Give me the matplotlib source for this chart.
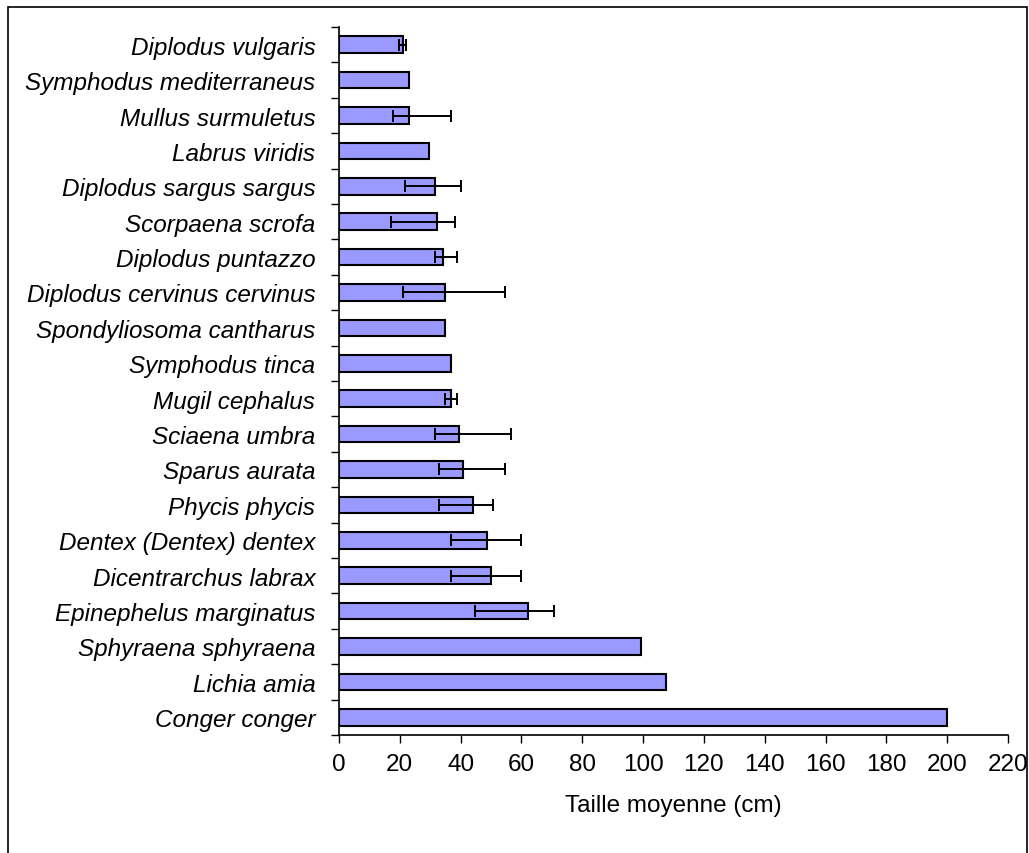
import matplotlib.pyplot as plt
import numpy as np
from matplotlib.patches import Rectangle

plt.rcParams['font.family'] = ['Liberation Sans', 'DejaVu Sans']

# Espèces (de haut en bas)
especes = [
    "Diplodus vulgaris", "Symphodus mediterraneus", "Mullus surmuletus",
    "Labrus viridis", "Diplodus sargus sargus", "Scorpaena scrofa",
    "Diplodus puntazzo", "Diplodus cervinus cervinus", "Spondyliosoma cantharus",
    "Symphodus tinca", "Mugil cephalus", "Sciaena umbra", "Sparus aurata",
    "Phycis phycis", "Dentex (Dentex) dentex", "Dicentrarchus labrax",
    "Epinephelus marginatus", "Sphyraena sphyraena", "Lichia amia", "Conger conger",
]
# Taille moyenne, minimum et maximum (cm)
moyenne = [21.2, 23.1, 23.1, 29.7, 31.7, 32.2, 34.3, 35.0, 35.0, 37.0,
           37.0, 39.5, 40.9, 44.1, 48.7, 50.1, 62.0, 99.2, 107.6, 200.0]
minimum = [19.8, 23.1, 17.8, 29.7, 21.7, 17.1, 31.7, 21.2, 35.0, 37.0,
           34.9, 31.7, 32.9, 32.9, 36.8, 36.8, 44.7, 99.2, 107.6, 200.0]
maximum = [21.9, 23.1, 37.0, 29.7, 40.2, 38.2, 38.8, 54.6, 35.0, 37.0,
           38.8, 56.7, 54.7, 50.7, 60.0, 60.0, 70.7, 99.2, 107.6, 200.0]
x_ticks = list(range(0, 221, 20))

moyenne = np.array(moyenne)
err = [moyenne - np.array(minimum), np.array(maximum) - moyenne]
y = np.arange(len(especes))

fig = plt.figure(figsize=(10.29, 8.54), dpi=100)
ax = fig.add_axes([0.3294, 0.1382, 0.6502, 0.829])

ax.barh(y, moyenne, height=0.47, color="#9999FF", edgecolor="black", linewidth=1.5,
        xerr=err, error_kw=dict(ecolor="black", elinewidth=1.4, capsize=4.5, capthick=1.4))

ax.set_ylim(len(especes) - 0.5, -0.5)
ax.set_xlim(0, 220)
ax.set_xticks(x_ticks)
ax.set_xticklabels([str(t) for t in x_ticks], fontsize=17.5)
ax.tick_params(axis="x", direction="out", length=6, width=1, pad=7)

# ticks entre les catégories, étiquettes au centre
ax.set_yticks(np.arange(len(especes) + 1) - 0.5)
ax.set_yticklabels([])
ax.tick_params(axis="y", which="major", direction="out", length=6, width=1)
ax.set_yticks(y, minor=True)
ax.set_yticklabels(especes, minor=True, fontsize=17.5, style="italic")
ax.tick_params(axis="y", which="minor", length=0, pad=17)

ax.set_xlabel("Taille moyenne (cm)", fontsize=17.5, labelpad=14)

for s in ["top", "right"]:
    ax.spines[s].set_visible(False)
for s in ["left", "bottom"]:
    ax.spines[s].set_linewidth(1.2)

# cadre extérieur
fig.patches.append(Rectangle((8 / 1029, -0.1), 1019 / 1029, 0.1 + 1 - 8 / 854,
                             transform=fig.transFigure, fill=False,
                             edgecolor="black", linewidth=1.2))

fig.savefig("out.png", dpi=100)
